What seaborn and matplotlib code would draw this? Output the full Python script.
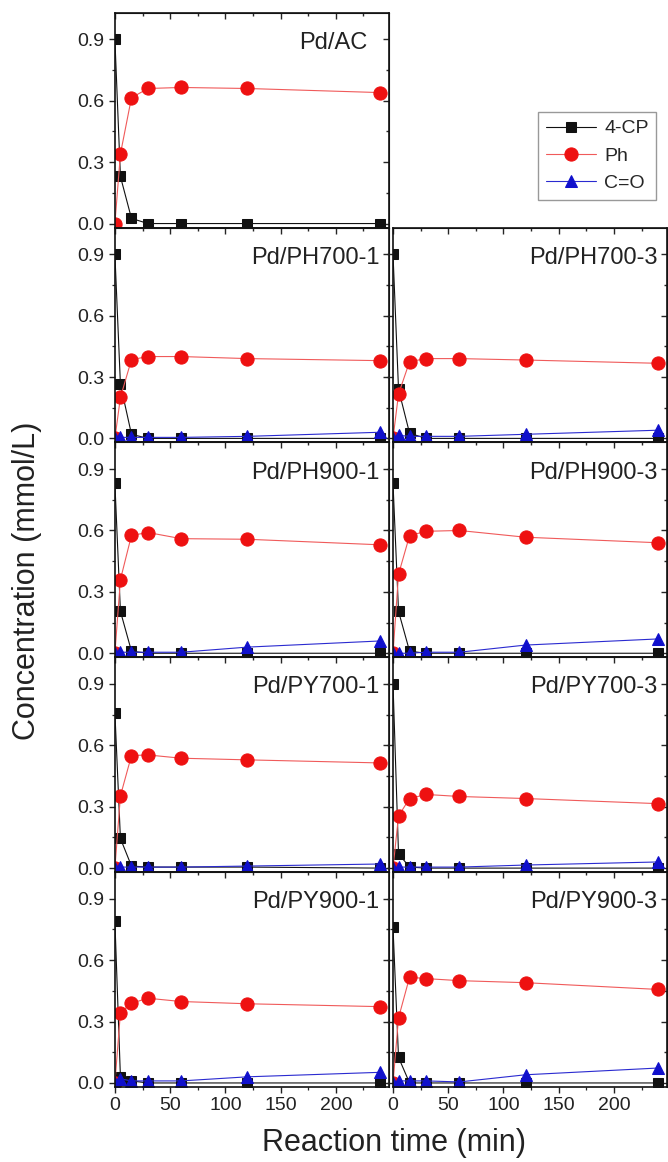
import numpy as np
import pandas as pd
import matplotlib
matplotlib.use('Agg')
import matplotlib.pyplot as plt
import seaborn as sns
from matplotlib.ticker import MultipleLocator

# datos (mmol/L)
time_min = [0, 5, 15, 30, 60, 120, 240]

catalysts = ['Pd/AC', None,
             'Pd/PH700-1', 'Pd/PH700-3',
             'Pd/PH900-1', 'Pd/PH900-3',
             'Pd/PY700-1', 'Pd/PY700-3',
             'Pd/PY900-1', 'Pd/PY900-3']

cp_conc = {
    'Pd/AC':      [0.90, 0.23, 0.025, 0.0, 0.0, 0.0, 0.0],
    'Pd/PH700-1': [0.90, 0.265, 0.02, 0.0, 0.0, 0.0, 0.0],
    'Pd/PH700-3': [0.90, 0.24, 0.025, 0.0, 0.0, 0.0, 0.0],
    'Pd/PH900-1': [0.83, 0.205, 0.01, 0.0, 0.0, 0.0, 0.0],
    'Pd/PH900-3': [0.83, 0.205, 0.01, 0.0, 0.0, 0.0, 0.0],
    'Pd/PY700-1': [0.76, 0.145, 0.01, 0.005, 0.005, 0.005, 0.0],
    'Pd/PY700-3': [0.90, 0.07, 0.005, 0.0, 0.0, 0.0, 0.0],
    'Pd/PY900-1': [0.79, 0.03, 0.01, 0.0, 0.0, 0.0, 0.0],
    'Pd/PY900-3': [0.76, 0.125, 0.0, 0.0, 0.0, 0.0, 0.0],
}

ph_conc = {
    'Pd/AC':      [0.0, 0.34, 0.615, 0.66, 0.665, 0.66, 0.64],
    'Pd/PH700-1': [0.0, 0.20, 0.385, 0.40, 0.40, 0.39, 0.38],
    'Pd/PH700-3': [0.0, 0.217, 0.375, 0.39, 0.39, 0.383, 0.367],
    'Pd/PH900-1': [0.0, 0.36, 0.576, 0.59, 0.56, 0.557, 0.53],
    'Pd/PH900-3': [0.0, 0.386, 0.575, 0.596, 0.60, 0.567, 0.54],
    'Pd/PY700-1': [0.0, 0.353, 0.55, 0.553, 0.537, 0.529, 0.514],
    'Pd/PY700-3': [0.0, 0.255, 0.34, 0.36, 0.35, 0.34, 0.315],
    'Pd/PY900-1': [0.0, 0.343, 0.39, 0.414, 0.398, 0.387, 0.373],
    'Pd/PY900-3': [0.0, 0.318, 0.517, 0.51, 0.50, 0.49, 0.457],
}

co_conc = {
    'Pd/AC':      None,
    'Pd/PH700-1': [0.0, 0.005, 0.005, 0.005, 0.005, 0.01, 0.03],
    'Pd/PH700-3': [0.0, 0.015, 0.01, 0.01, 0.01, 0.02, 0.04],
    'Pd/PH900-1': [0.0, 0.005, 0.005, 0.005, 0.005, 0.03, 0.06],
    'Pd/PH900-3': [0.0, 0.0, 0.0, 0.005, 0.005, 0.04, 0.07],
    'Pd/PY700-1': [0.0, 0.005, 0.005, 0.005, 0.005, 0.01, 0.02],
    'Pd/PY700-3': [0.0, 0.005, 0.005, 0.005, 0.005, 0.015, 0.03],
    'Pd/PY900-1': [0.0, 0.02, 0.01, 0.01, 0.01, 0.03, 0.052],
    'Pd/PY900-3': [0.0, 0.01, 0.01, 0.01, 0.005, 0.04, 0.073],
}

series_names = ['4-CP', 'Ph', 'C=O']

sns.set_style('ticks')
plt.rcParams['font.family'] = ['Liberation Sans', 'DejaVu Sans']
text_color = '#222222'

fig = plt.figure(figsize=(6.68, 11.62), dpi=100)
gs = fig.add_gridspec(5, 2, left=0.172, right=0.9985, top=0.989, bottom=0.0645,
                      wspace=0.015, hspace=0)

legend_handles = None

for idx, name in enumerate(catalysts):
    if name is None:
        continue  # hueco arriba a la derecha, solo leyenda
    row, col = divmod(idx, 2)
    ax = fig.add_subplot(gs[row, col])

    # 4-CP: cuadrados negros
    sns.lineplot(x=time_min, y=cp_conc[name], ax=ax, color='#111111', marker='s',
                 markersize=6.5, markeredgecolor='#111111', linewidth=0.8)
    # Ph: circulos rojos
    sns.lineplot(x=time_min, y=ph_conc[name], ax=ax, color='#f05a5a', marker='o',
                 markersize=9.5, markerfacecolor='#ee1111', markeredgecolor='#ee1111',
                 linewidth=0.8)
    # C=O: triangulos azules
    if co_conc[name] is not None:
        sns.lineplot(x=time_min, y=co_conc[name], ax=ax, color='#2a2ad0', marker='^',
                     markersize=8, markerfacecolor='#1010cc', markeredgecolor='#1010cc',
                     linewidth=0.8)
        if legend_handles is None:
            legend_handles = ax.get_lines()[:3]

    ax.set_xlim(0, 248)
    ax.set_ylim(-0.02, 1.03)
    ax.set_xlabel('')
    ax.set_ylabel('')

    ax.set_xticks([0, 50, 100, 150, 200])
    ax.xaxis.set_minor_locator(MultipleLocator(25))
    ax.set_yticks([0.0, 0.3, 0.6, 0.9])
    ax.yaxis.set_minor_locator(MultipleLocator(0.15))
    ax.tick_params(which='major', direction='out', length=4, width=1.0,
                   labelsize=14, colors=text_color)
    ax.tick_params(which='minor', direction='out', length=2.5, width=0.9)

    if col == 0:
        ax.set_yticklabels(['0.0', '0.3', '0.6', '0.9'])
    else:
        ax.tick_params(labelleft=False)
    if row < 4:
        ax.tick_params(labelbottom=False)

    # ticks arriba y derecha hacia dentro
    top_ax = ax.secondary_xaxis('top')
    top_ax.set_xticks([0, 50, 100, 150, 200])
    top_ax.xaxis.set_minor_locator(MultipleLocator(25))
    top_ax.tick_params(which='both', direction='in', labeltop=False, width=1.0)
    top_ax.tick_params(which='major', length=4)
    top_ax.tick_params(which='minor', length=2.5)
    right_ax = ax.secondary_yaxis('right')
    right_ax.set_yticks([0.0, 0.3, 0.6, 0.9])
    right_ax.yaxis.set_minor_locator(MultipleLocator(0.15))
    right_ax.tick_params(which='both', direction='in', labelright=False, width=1.0)
    right_ax.tick_params(which='major', length=4)
    right_ax.tick_params(which='minor', length=2.5)

    for spine in ax.spines.values():
        spine.set_linewidth(1.2)
        spine.set_color('#111111')

    label_x = 0.92 if name == 'Pd/AC' else 0.965
    ax.text(label_x, 0.86, name, transform=ax.transAxes, ha='right', va='center',
            fontsize=17, color=text_color)

fig.legend(legend_handles, series_names, loc='upper left',
           bbox_to_anchor=(538 / 668, 1 - 112 / 1162), borderaxespad=0,
           frameon=True, fancybox=False, edgecolor='#999999', fontsize=14,
           handlelength=2.6, labelspacing=0.5, borderpad=0.4, handletextpad=0.4,
           framealpha=1)

fig.text(0.04, 0.50, 'Concentration (mmol/L)', rotation=90, ha='center', va='center',
         fontsize=22, color=text_color)
fig.text(0.59, 1 - 1143 / 1162, 'Reaction time (min)', ha='center', va='center',
         fontsize=22, color=text_color)

fig.savefig('out.png', dpi=100)
